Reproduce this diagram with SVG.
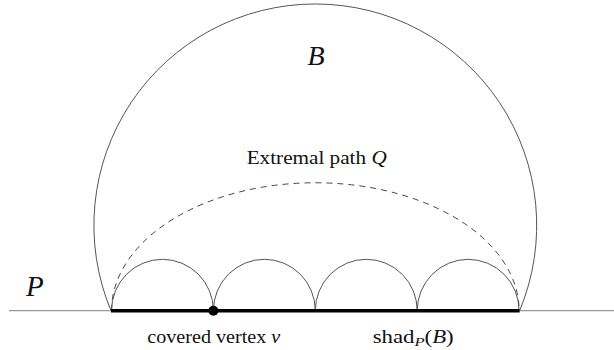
<svg xmlns="http://www.w3.org/2000/svg" width="614" height="350" viewBox="0 0 614 350">
<style>
.thin{fill:none;stroke:#555;stroke-width:1}
.dash{fill:none;stroke:#444;stroke-width:1;stroke-dasharray:6 5}
text{font-family:'Liberation Serif','Times New Roman','DejaVu Serif',serif;fill:#111}
.it{font-style:italic}
</style>
<rect width="614" height="350" fill="#fff"/>
<g id="path-P">
<line x1="9" y1="310.7" x2="614" y2="310.7" stroke="#999" stroke-width="1.3"/>
<text class="it" x="26" y="296" font-size="29" font-family="Liberation Serif, serif">P</text>
</g>
<g id="block-B">
<path class="thin" d="M111,310.7 A221.4,221.4 0 1 1 519.6,310.7"/>
<text class="it" x="316" y="65" font-size="28" text-anchor="middle" font-family="Liberation Serif, serif">B</text>
</g>
<g id="extremal-Q">
<path class="dash" d="M111.5,310.7 A203.8,128 0 0 1 519.1,310.7"/>
<text x="246.7" y="164" font-size="18" font-family="Liberation Serif, serif" textLength="140" lengthAdjust="spacingAndGlyphs">Extremal path <tspan class="it">Q</tspan></text>
</g>
<g id="connectors">
<path class="thin" d="M111.5,310.7 A50.95,51.4 0 0 1 213.4,310.7 A50.95,51.4 0 0 1 315.3,310.7 A50.95,51.4 0 0 1 417.2,310.7 A50.95,51.4 0 0 1 519.1,310.7"/>
</g>
<g id="shadow">
<line x1="111" y1="310.7" x2="519.6" y2="310.7" stroke="#000" stroke-width="3.6"/>
<text x="372.7" y="342.7" font-size="18" font-family="Liberation Serif, serif" textLength="81" lengthAdjust="spacingAndGlyphs">shad<tspan class="it" font-size="13" dy="3">P</tspan><tspan dy="-3">(</tspan><tspan class="it">B</tspan>)</text>
</g>
<g id="vertex-v">
<circle cx="213.4" cy="310.7" r="5" fill="#000"/>
<text x="147.3" y="342.7" font-size="18" font-family="Liberation Serif, serif" textLength="133" lengthAdjust="spacingAndGlyphs">covered vertex <tspan class="it">v</tspan></text>
</g>
</svg>
